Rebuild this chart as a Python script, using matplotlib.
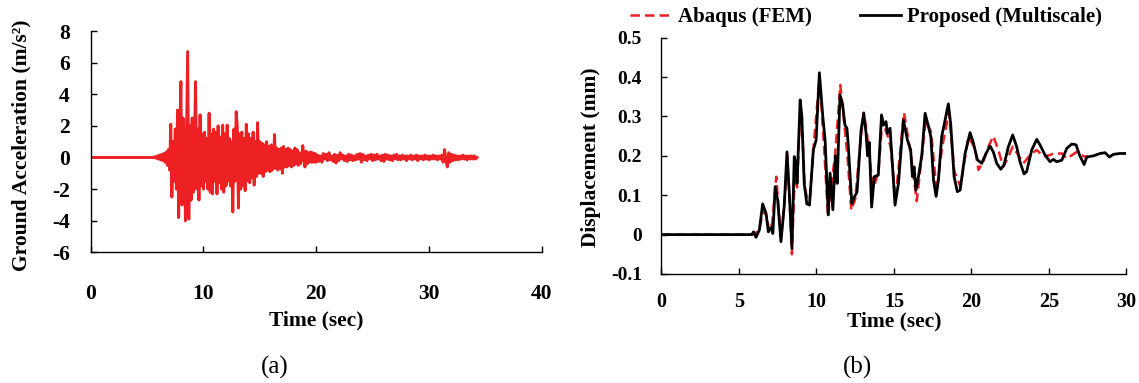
import numpy as np
import matplotlib
matplotlib.use("Agg")
import matplotlib.pyplot as plt

plt.rcParams['font.family'] = ['Liberation Serif', 'DejaVu Serif']
plt.rcParams['axes.unicode_minus'] = False

# ---- (a) ground acceleration record (m/s^2) ----
# strong motion part, sampled every 0.1 s starting at 5.6 s
strong_t0 = 5.6
strong_dt = 0.1
strong_acc = [
    0.0, 0.05, -0.05, 0.1, -0.1, 0.15, -0.15, 0.2, -0.2, 0.25,
    -0.3, 0.35, -0.5, 0.5,
    -0.8, 2.1, -2.5, 1.0, -1.5, 1.8, -2.0, 3.0, -3.8, 1.5,
    4.8, -3.0, 2.5, 1.2, -4.0, 1.5, 6.7, -3.9, 2.0, -2.7,
    2.5, -2.2, 1.0, 4.8, -2.0, 1.8, -2.7, 2.7, -1.8, 1.5,
    -2.0, 1.6, -1.5, 1.2, -2.0, 2.8, -2.2, 1.5, -2.3, 1.8,
    -1.5, 1.6, -2.3, 2.0, -1.6, 1.3, -2.0, 2.05, -2.2, 1.5,
    -1.8, 2.05, -1.5, 1.2, -1.8, 1.0, -3.45, 1.8, -1.5, 2.9,
    2.0, -3.2, 1.5, -2.0, 1.6, -1.8, 1.2, -2.1, 2.1, -1.5,
    1.5, -1.6, 1.2, -1.3, 1.6, -1.75, 1.0, -1.2, 2.2, -1.0,
    1.0, -1.0, 0.9, -1.2, 0.8, -0.9, 1.0, -0.8, 0.7, -0.9,
    0.8, -0.8, -0.5, 1.45, -0.7, 0.6, -0.8, 0.5, -0.7, 0.6,
    -1.0, 0.7, -0.6, 0.5, -0.6, 0.6, -0.5, 0.5, -0.6, 0.4,
    -0.5, 0.6, -0.4, 0.5, -0.5, 0.3, -0.4, -0.2, 0.75, 0.2,
    -0.6, 0.4, -0.4, 0.3, -0.3, 0.35, -0.3, 0.3, -0.3, 0.25,
    -0.3,
]
# coda, sampled every 0.125 s starting at 20.125 s
coda_t0 = 20.125
coda_dt = 0.125
coda_acc = [
    0.15, -0.25, 0.1, -0.3, 0.25, -0.1, 0.2, -0.2,
    0.3, -0.15, 0.1, -0.25, 0.2, -0.35, 0.15, -0.2,
    0.3, -0.1, 0.15, -0.2, 0.1, -0.25, 0.2, -0.15,
    0.15, -0.2, 0.1, -0.15, 0.2, -0.1, 0.25, -0.3,
    0.2, -0.15, 0.1, -0.2, 0.15, -0.1, 0.2, -0.2,
    0.15, -0.15, 0.2, -0.1, 0.1, -0.2, 0.15, -0.25,
    0.2, -0.1, 0.15, -0.15, 0.1, -0.2, 0.15, -0.1,
    0.2, -0.15, 0.1, -0.15, 0.15, -0.1, 0.1, -0.2,
    0.1, -0.1, 0.15, -0.15, 0.1, -0.1, 0.15, -0.2,
    0.1, -0.1, 0.1, -0.15, 0.15, -0.1, 0.1, -0.15,
    0.1, -0.1, 0.15, -0.1, 0.1, -0.15, 0.1, -0.1,
    0.15, -0.3, 0.5, -0.2, -0.6, 0.3, -0.3, 0.2,
    -0.2, 0.15, -0.15, 0.1, -0.15, 0.1, -0.1, 0.15,
    -0.1, 0.1, -0.15, 0.1, -0.1, 0.1, -0.1, 0.1,
    -0.1, 0.0,
]

# ---- (b) displacement (mm) ----
prop_t = [0, 5.83, 5.94, 6.1, 6.32, 6.53, 6.75, 6.9, 7.12, 7.19,
          7.34, 7.5, 7.71, 7.92, 8.1, 8.25, 8.42, 8.57, 8.68, 8.75,
          8.95, 9.06, 9.21, 9.38, 9.55, 9.8, 9.98, 10.19, 10.41, 10.56,
          10.76, 10.88, 11.06, 11.22, 11.34, 11.52, 11.69, 11.84, 11.97, 12.06,
          12.28, 12.45, 12.62, 12.88, 13.05, 13.2, 13.3, 13.41, 13.56, 13.73,
          13.99, 14.2, 14.33, 14.49, 14.58, 14.75, 14.81, 15.07, 15.29, 15.61,
          15.87, 16.08, 16.19, 16.3, 16.42, 16.58, 16.8, 17.01, 17.23, 17.38,
          17.55, 17.72, 17.87, 18.08, 18.3, 18.51, 18.66, 18.88, 19.09, 19.27,
          19.59, 19.91, 20.13, 20.38, 20.66, 20.94, 21.2, 21.41, 21.63, 21.89,
          22.1, 22.38, 22.66, 22.92, 23.13, 23.39, 23.56, 23.89, 24.21, 24.42,
          24.75, 25.07, 25.29, 25.5, 25.83, 26.15, 26.47, 26.75, 26.97, 27.27,
          27.44, 27.87, 28.3, 28.62, 28.9, 29.16, 29.59, 30.0]
prop_d = [0, 0, 0.007, -0.007, 0.012, 0.078, 0.054, 0.007, 0.02, 0.003,
          0.122, 0.088, -0.018, 0.071, 0.21, 0.105, -0.035, 0.198, 0.18, 0.13,
          0.342, 0.3, 0.13, 0.078, 0.075, 0.215, 0.24, 0.411, 0.3, 0.24,
          0.05, 0.156, 0.063, 0.2, 0.13, 0.355, 0.33, 0.278, 0.27, 0.223,
          0.079, 0.096, 0.108, 0.265, 0.308, 0.258, 0.2, 0.234, 0.07, 0.147,
          0.151, 0.304, 0.278, 0.287, 0.257, 0.27, 0.232, 0.075, 0.13, 0.291,
          0.24, 0.215, 0.147, 0.172, 0.113, 0.147, 0.202, 0.308, 0.274, 0.249,
          0.139, 0.097, 0.139, 0.249, 0.291, 0.332, 0.282, 0.147, 0.109, 0.113,
          0.206, 0.259, 0.232, 0.19, 0.181, 0.206, 0.225, 0.21, 0.181, 0.166,
          0.177, 0.223, 0.253, 0.223, 0.185, 0.154, 0.16, 0.215, 0.242, 0.228,
          0.202, 0.185, 0.191, 0.185, 0.189, 0.219, 0.23, 0.228, 0.202, 0.178,
          0.197, 0.2, 0.206, 0.208, 0.197, 0.204, 0.206, 0.206]

fem_t = [0, 5.83, 6.0, 6.3, 6.55, 6.75, 6.95, 7.15, 7.41, 7.55,
         7.72, 7.95, 8.12, 8.28, 8.42, 8.6, 8.75, 8.97, 9.1, 9.25,
         9.42, 9.6, 9.85, 10.2, 10.45, 10.75, 11.0, 11.2, 11.54, 11.8,
         12.0, 12.25, 12.5, 12.9, 13.05, 13.25, 13.55, 13.7, 14.0, 14.25,
         14.6, 14.8, 15.1, 15.65, 16.1, 16.47, 16.8, 17.05, 17.4, 17.75,
         18.1, 18.55, 18.9, 19.29, 19.8, 20.23, 20.45, 20.76, 21.09, 21.41,
         21.73, 22.05, 22.38, 22.66, 23.02, 23.35, 23.78, 24.21, 24.64, 25.07,
         25.29, 25.83, 26.15, 26.79, 27.33, 27.5]
fem_d = [0, 0, 0.003, 0.01, 0.06, 0.05, 0.01, 0.03, 0.147, 0.07,
         -0.01, 0.09, 0.2, 0.08, -0.05, 0.15, 0.12, 0.33, 0.25, 0.12,
         0.09, 0.1, 0.24, 0.4, 0.25, 0.045, 0.14, 0.2, 0.38, 0.28,
         0.2, 0.062, 0.09, 0.26, 0.31, 0.26, 0.15, 0.12, 0.16, 0.29,
         0.25, 0.22, 0.09, 0.31, 0.2, 0.085, 0.2, 0.29, 0.26, 0.11,
         0.22, 0.31, 0.16, 0.122, 0.248, 0.219, 0.164, 0.185, 0.223, 0.25,
         0.215, 0.172, 0.198, 0.223, 0.202, 0.181, 0.202, 0.215, 0.198, 0.202,
         0.206, 0.206, 0.193, 0.21, 0.197, 0.2]

acc_x_ticks = [0, 10, 20, 30, 40]
acc_y_ticks = [-6, -4, -2, 0, 2, 4, 6, 8]
disp_x_ticks = [0, 5, 10, 15, 20, 25, 30]
disp_y_ticks = [-0.1, 0, 0.1, 0.2, 0.3, 0.4, 0.5]
disp_y_labels = ['-0.1', '0', '0.1', '0.2', '0.3', '0.4', '0.5']

red = '#ED2024'

strong_t = strong_t0 + strong_dt * np.arange(len(strong_acc))
coda_t = coda_t0 + coda_dt * np.arange(len(coda_acc))
acc_t = np.concatenate([[0.0], strong_t, coda_t])
acc_v = np.concatenate([[0.0], strong_acc, coda_acc])

fig = plt.figure(figsize=(11.39, 3.83), dpi=100)
ax1 = fig.add_axes([0.0796, 0.3412, 0.3961, 0.5778])
ax2 = fig.add_axes([0.5807, 0.2846, 0.4083, 0.6170])

# panel (a)
ax1.plot(acc_t, acc_v, color=red, lw=2.1)
ax1.set_xlim(0, 40)
ax1.set_ylim(-6, 8)
ax1.set_xticks(acc_x_ticks)
ax1.set_yticks(acc_y_ticks)
ax1.tick_params(axis='x', direction='in', length=4, width=1, pad=23, labelsize=15.5)
ax1.tick_params(axis='y', direction='in', length=4, width=1, pad=15, labelsize=15.5)
for lab in ax1.get_xticklabels() + ax1.get_yticklabels():
    lab.set_fontweight('bold')
ax1.set_xlabel('Time (sec)', fontsize=15.5, fontweight='bold', va='center')
ax1.xaxis.set_label_coords(0.5, -0.309)
ax1.set_ylabel('Ground Acceleration (m/s²)', fontsize=15.5, fontweight='bold', va='center')
ax1.yaxis.set_label_coords(-0.154, 0.485)

# panel (b)
ax2.plot(fem_t, fem_d, color=red, lw=1.8, linestyle=(0, (3.8, 2.0)), label='Abaqus (FEM)')
ax2.plot(prop_t, prop_d, color='black', lw=2.0, label='Proposed (Multiscale)')
ax2.set_xlim(0, 30)
ax2.set_ylim(-0.1, 0.5)
ax2.set_xticks(disp_x_ticks)
ax2.set_yticks(disp_y_ticks)
ax2.set_yticklabels(disp_y_labels)
ax2.tick_params(axis='x', direction='in', length=4, width=1, pad=13, labelsize=14.5)
ax2.tick_params(axis='y', direction='in', length=4, width=1, pad=14, labelsize=14)
for lab in ax2.get_xticklabels() + ax2.get_yticklabels():
    lab.set_fontweight('bold')
ax2.set_xlabel('Time (sec)', fontsize=15.5, fontweight='bold', va='center')
ax2.xaxis.set_label_coords(0.5, -0.2)
ax2.set_ylabel('Displacement (mm)', fontsize=15.5, fontweight='bold', va='center')
ax2.yaxis.set_label_coords(-0.152, 0.496)

for ax in (ax1, ax2):
    ax.spines['top'].set_visible(False)
    ax.spines['right'].set_visible(False)
    ax.spines['left'].set_linewidth(1.0)
    ax.spines['bottom'].set_linewidth(1.0)

fig.legend(loc='center left', bbox_to_anchor=(0.553, 0.956), ncol=2, frameon=False,
           prop={'weight': 'bold', 'size': 15}, handlelength=2.0, handletextpad=0.3,
           columnspacing=2.3, borderpad=0, borderaxespad=0)

fig.text(275 / 1139, 1 - 367 / 383, '(a)', ha='center', va='center', fontsize=18)
fig.text(858 / 1139, 1 - 367 / 383, '(b)', ha='center', va='center', fontsize=18)

fig.savefig('out.png', dpi=100)
